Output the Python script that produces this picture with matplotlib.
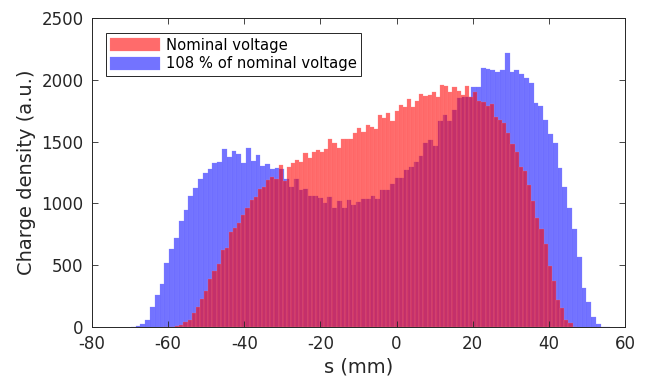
import numpy as np
import matplotlib
matplotlib.use("Agg")
import matplotlib.pyplot as plt

# histogram counts (100 bins each)
nominal_counts = [
    2, 3, 5, 8, 16, 38, 57, 113, 164, 226,
    294, 388, 456, 512, 623, 642, 771, 798, 846, 906,
    960, 1027, 1049, 1114, 1130, 1189, 1212, 1196, 1311, 1185,
    1292, 1327, 1350, 1335, 1405, 1365, 1418, 1432, 1418, 1438,
    1520, 1490, 1445, 1518, 1524, 1518, 1567, 1612, 1580, 1634,
    1621, 1602, 1715, 1693, 1729, 1669, 1747, 1796, 1783, 1842,
    1782, 1827, 1885, 1869, 1877, 1899, 1861, 1958, 1950, 1901,
    1939, 1909, 1880, 1950, 1858, 1900, 1828, 1823, 1788, 1804,
    1702, 1675, 1653, 1567, 1480, 1418, 1294, 1262, 1149, 1022,
    882, 795, 671, 493, 375, 218, 156, 57, 30, 5,
]
high_counts = [
    3, 10, 24, 57, 159, 256, 345, 521, 634, 717,
    858, 947, 1060, 1127, 1197, 1243, 1275, 1330, 1335, 1443,
    1373, 1421, 1400, 1327, 1451, 1346, 1390, 1302, 1319, 1281,
    1288, 1277, 1195, 1130, 1197, 1108, 1116, 1060, 1060, 1046,
    1001, 1050, 964, 1019, 965, 1027, 987, 1011, 1038, 1038,
    1062, 1038, 1108, 1108, 1157, 1205, 1205, 1270, 1297, 1337,
    1385, 1486, 1513, 1464, 1669, 1715, 1667, 1756, 1853, 1858,
    1858, 1944, 1944, 2093, 2085, 2079, 2064, 2079, 2214, 2066,
    2076, 2044, 2012, 1971, 1810, 1785, 1672, 1561, 1486, 1289,
    1135, 960, 795, 566, 316, 205, 84, 22, 5, 2,
]
# bin layout (mm)
nominal_start, nominal_width = -61.4, 1.087
high_start, high_width = -69.76, 1.259

labels = ["Nominal voltage", "108 % of nominal voltage"]
xticks = [-80, -60, -40, -20, 0, 20, 40, 60]
yticks = [0, 500, 1000, 1500, 2000, 2500]

plt.rcParams['font.family'] = 'DejaVu Sans'
plt.rcParams['axes.unicode_minus'] = False

fig = plt.figure(figsize=(6.47, 3.76), dpi=100)
ax = fig.add_axes([0.142, 0.130, 0.824, 0.822])

axcol = '#262626'
hx = high_start + high_width * np.arange(len(high_counts))
nx = nominal_start + nominal_width * np.arange(len(nominal_counts))
b2 = ax.bar(hx, high_counts, width=high_width, align='edge',
            color='blue', edgecolor='#8080ff', linewidth=0.3, alpha=0.55)
b1 = ax.bar(nx, nominal_counts, width=nominal_width, align='edge',
            color='red', edgecolor='#ff8080', linewidth=0.3, alpha=0.58)

ax.set_xlim(-80, 60)
ax.set_ylim(0, 2500)
ax.set_xticks(xticks)
ax.set_yticks(yticks)
ax.tick_params(direction='in', length=4, width=0.6, colors=axcol,
               labelsize=12, top=True, right=True, pad=6)
for sp in ax.spines.values():
    sp.set_color(axcol)
    sp.set_linewidth(0.7)

ax.set_xlabel("s (mm)", fontsize=14, color=axcol, labelpad=3)
ax.set_ylabel("Charge density (a.u.)", fontsize=14, color=axcol, labelpad=4)

leg = ax.legend([b1, b2], labels, loc='upper left',
                bbox_to_anchor=(0.026, 0.951), borderaxespad=0,
                fontsize=10.6, fancybox=False, framealpha=1,
                edgecolor=axcol, handlelength=3.4, handleheight=1.0,
                handletextpad=0.4, borderpad=0.3, labelspacing=0.25)
leg.get_frame().set_linewidth(0.7)

fig.savefig("out.png", dpi=100)
